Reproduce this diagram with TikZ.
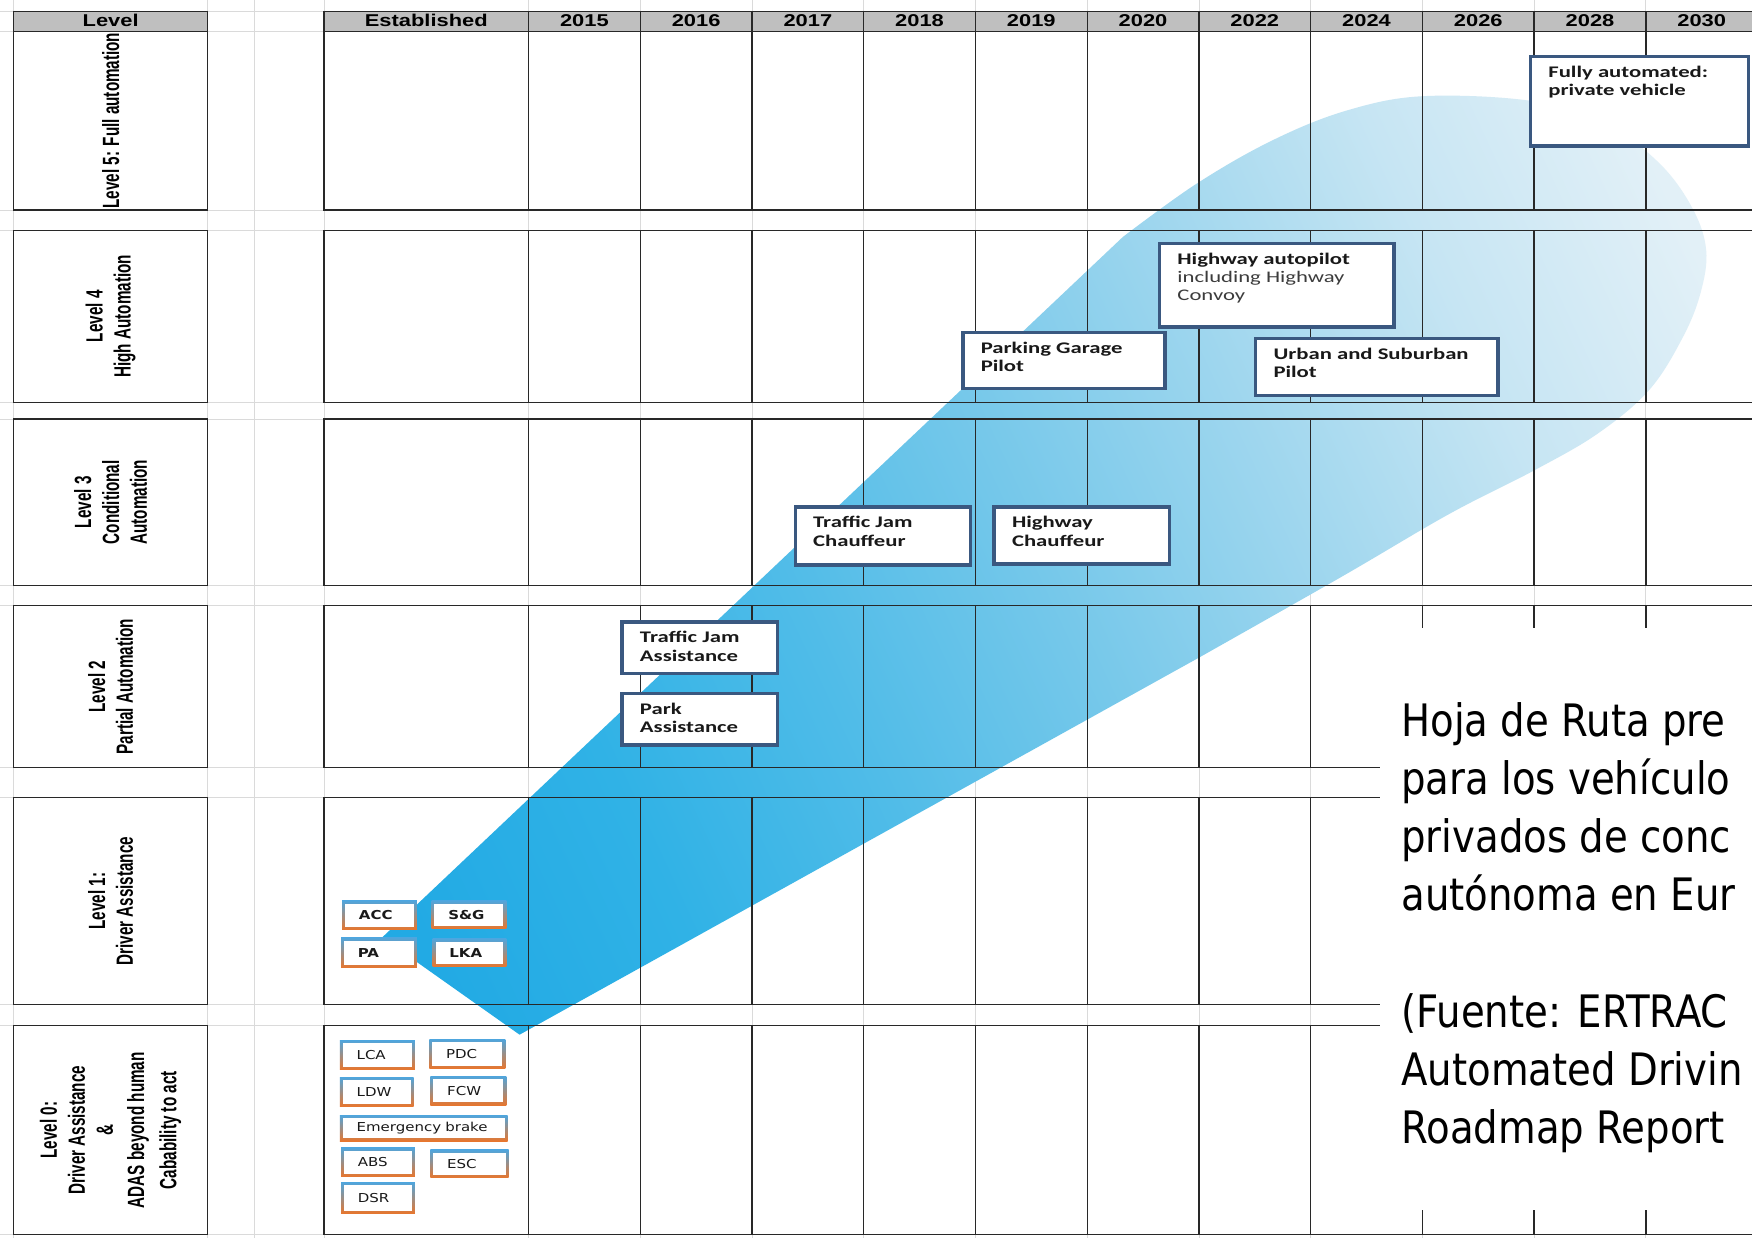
\documentclass[tikz,border=0pt]{standalone}
\usepackage{fontspec}
\newfontfamily\hdrfont[FakeStretch=1.28]{Liberation Sans}
\newfontfamily\lblfont[FakeStretch=0.65]{Liberation Sans}
\newfontfamily\boxfont[FakeStretch=1.4]{Carlito}
\newfontfamily\sbfont[FakeStretch=1.22]{DejaVu Sans}
\newfontfamily\panelfont[FakeStretch=0.865]{DejaVu Sans}
\definecolor{hdrgray}{RGB}{191,191,191}
\definecolor{gridcol}{RGB}{40,40,40}
\definecolor{faintcol}{RGB}{218,218,218}
\definecolor{boxblue}{RGB}{58,88,128}
\definecolor{boxtext}{RGB}{25,25,25}
\definecolor{boxgray}{RGB}{60,60,60}
\definecolor{sbblue}{RGB}{80,165,220}
\definecolor{sborange}{RGB}{232,118,45}
\definecolor{bm0}{RGB}{32,168,226}
\definecolor{bm1}{RGB}{34,170,228}
\definecolor{bm2}{RGB}{48,178,230}
\definecolor{bm3}{RGB}{80,188,232}
\definecolor{bm4}{RGB}{118,200,234}
\definecolor{bm5}{RGB}{158,214,238}
\definecolor{bm6}{RGB}{198,229,243}
\definecolor{bm7}{RGB}{226,240,247}
\definecolor{bm8}{RGB}{236,245,250}
\pgfdeclarehorizontalshading{beamshade}{100bp}{color(0bp)=(bm0); color(20bp)=(bm1); color(30bp)=(bm2); color(40bp)=(bm3); color(50bp)=(bm4); color(60bp)=(bm5); color(70bp)=(bm6); color(80bp)=(bm7); color(100bp)=(bm8)}
\newcommand\bxt[3]{\parbox[c][#2pt][t]{#1pt}{\raggedright\vspace*{7pt}\strut #3}}
\begin{document}
\begin{tikzpicture}[x=1pt,y=-1pt,scale=1.1173,every node/.style={transform shape},
  faint/.style={draw=faintcol,line width=0.8pt},
  gridl/.style={draw=gridcol,line width=1.3pt},
  hdr/.style={font=\hdrfont\bfseries\fontsize{15.3}{16}\selectfont,inner sep=0pt,anchor=base,text=black},
  lbl/.style={font=\lblfont\bfseries\fontsize{21}{25}\selectfont,rotate=90,align=center,inner sep=0pt,text=black},
  bigbox/.style={draw=boxblue,line width=3.5pt,fill=white,inner xsep=16pt,inner ysep=0pt,anchor=north west,text=boxtext,font=\boxfont\fontsize{14.5}{16.5}\selectfont},
  sbox/.style={anchor=north west,inner xsep=15pt,inner ysep=0pt,align=left,top color=sbblue,bottom color=sborange,text=boxtext,font=\sbfont\fontsize{11}{12}\selectfont,
    path picture={\fill[white] ([shift={(2.6pt,2.6pt)}]path picture bounding box.south west) rectangle ([shift={(-2.6pt,-2.6pt)}]path picture bounding box.north east);}},
  panel/.style={font=\panelfont\fontsize{40}{52}\selectfont,align=left,inner sep=0pt,anchor=north west,text=black}]
\useasboundingbox (0,0) rectangle (1568,1108);
\fill[white] (0,0) rectangle (1568,1108);
% faint spreadsheet grid
\foreach \yy in {10,28,188,206,360,375,524,542,687,714,899,918,1105}
  \draw[faint] (0,\yy) -- (1568,\yy);
\foreach \xx in {12,186,228,290,473,573,...,1473}
  \draw[faint] (\xx,0) -- (\xx,1108);
% cell fills
\foreach \ya/\yb in {28/188,206/360,375/524,542/687,714/899,918/1105}{
  \fill[white] (12,\ya) rectangle (186,\yb);
  \fill[white] (290,\ya) rectangle (1600,\yb);
}
\fill[hdrgray] (12,10) rectangle (186,28);
\fill[hdrgray] (290,10) rectangle (1600,28);
% beam
\shade[shading=beamshade,shading angle=25] (342,839) -- plot[smooth,tension=0.6] coordinates {(1005,212) (1070,165) (1138,126) (1205,99) (1275,86) (1375,91) (1440,113) (1486,147) (1515,187) (1527,224) (1522,262) (1506,302) (1476,349) (1430,388) (1373,421) (1297,460) (1201,516) (1074,588)} -- (465,926) -- cycle;
% dark grid
\foreach \ya/\yb in {10/28,28/188,206/360,375/524,542/687,714/899,918/1105}{
  \draw[gridl] (12,\ya) rectangle (186,\yb);
  \draw[gridl] (290,\ya) rectangle (1600,\yb);
  \foreach \xx in {473,573,...,1473}
    \draw[gridl] (\xx,\ya) -- (\xx,\yb);
}
% text panel
\fill[white] (1235,562) rectangle (1600,1083);
% header texts
\node[hdr] (hlevel) at (99,24) {Level};
\node[hdr] (hest) at (381.5,24) {Established};
\foreach \yr [count=\i from 0] in {2015,2016,2017,2018,2019,2020,2022,2024,2026,2028,2030}
  \node[hdr] (h\yr) at (523+100*\i,24) {\yr};
% row labels
\node[lbl] (l5) at (99,108) {Level 5: Full automation};
\node[lbl] (l4) at (99,283) {Level 4\\High Automation};
\node[lbl] (l3) at (99,449.5) {Level 3\\Conditional\\Automation};
\node[lbl] (l2) at (99,614.5) {Level 2\\Partial Automation};
\node[lbl] (l1) at (99,806.5) {Level 1:\\Driver Assistance};
\node[lbl] (l0) at (99,1011.5) {Level 0:\\Driver Assistance\\\&\\[3pt]ADAS beyond human\\[4pt]Cabability to act};
% big boxes
\node[bigbox] (fully) at (1368,49) {\bxt{163}{80}{\bfseries Fully automated:\\private vehicle}};
\node[bigbox] (hap) at (1036,216) {\bxt{178}{75}{\textbf{Highway autopilot}\\\color{boxgray}including Highway\\Convoy}};
\node[bigbox] (pgp) at (860,296) {\bxt{149}{50}{\bfseries Parking Garage\\Pilot}};
\node[bigbox] (usp) at (1122,301) {\bxt{185}{51}{\bfseries Urban and Suburban\\Pilot}};
\node[bigbox] (tjc) at (710,452) {\bxt{125}{52}{\bfseries Traffic Jam\\Chauffeur}};
\node[bigbox] (hch) at (888,452) {\bxt{125}{51}{\bfseries Highway\\Chauffeur}};
\node[bigbox] (tja) at (555,555) {\bxt{107}{46}{\bfseries Traffic Jam\\Assistance}};
\node[bigbox] (pka) at (555,619) {\bxt{107}{46}{\bfseries Park\\Assistance}};
% small boxes level 1
\node[sbox,text width=37pt,minimum height=26pt] (acc) at (306,806) {\bfseries ACC};
\node[sbox,text width=37pt,minimum height=25pt] (sg) at (386,806) {\bfseries S\&G};
\node[sbox,text width=38pt,minimum height=27pt] (pa) at (305,839) {\bfseries PA};
\node[sbox,text width=36pt,minimum height=25pt] (lka) at (387,840) {\bfseries LKA};
% small boxes level 0
\node[sbox,text width=37pt,minimum height=26pt] (lca) at (304,931) {LCA};
\node[sbox,text width=38pt,minimum height=26pt] (pdc) at (384,930) {PDC};
\node[sbox,text width=36pt,minimum height=26pt] (ldw) at (304,964) {LDW};
\node[sbox,text width=38pt,minimum height=26pt] (fcw) at (385,963) {FCW};
\node[sbox,text width=120pt,minimum height=23pt] (eb) at (304,998) {Emergency brake};
\node[sbox,text width=36pt,minimum height=26pt] (abs) at (305,1027) {ABS};
\node[sbox,text width=40pt,minimum height=25pt] (esc) at (385,1029) {ESC};
\node[sbox,text width=36pt,minimum height=28pt] (dsr) at (305,1058) {DSR};
% panel text
\node[panel] (note) at (1254,628.6) {Hoja de Ruta pre\\para los vehículo\\privados de conc\\autónoma en Eur\\[52pt](Fuente: ERTRAC\\Automated Drivin\\Roadmap Report};
\end{tikzpicture}
\end{document}
